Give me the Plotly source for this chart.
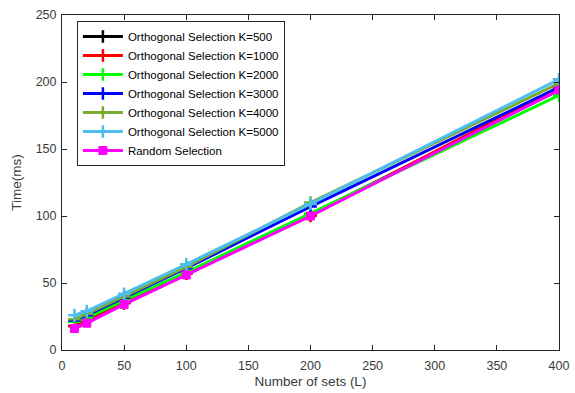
import plotly.graph_objects as go

L = [10, 20, 50, 100, 200, 400]
k500 = [18, 22, 35, 57, 101, 194]
k1000 = [18, 22, 35, 57, 100, 196]
k2000 = [21, 24, 37, 58, 102, 190]
k3000 = [22, 26, 39, 61, 107, 196]
k4000 = [23, 27, 40, 62, 110, 199]
k5000 = [26, 29, 42, 64, 109, 202]
rand_sel = [16, 20, 34, 56, 100, 194]

names = ["Orthogonal Selection K=500", "Orthogonal Selection K=1000",
         "Orthogonal Selection K=2000", "Orthogonal Selection K=3000",
         "Orthogonal Selection K=4000", "Orthogonal Selection K=5000",
         "Random Selection"]
series = [k500, k1000, k2000, k3000, k4000, k5000, rand_sel]
colors = ["#000000", "#ff0000", "#00ff00", "#0000ff", "#77ac30", "#4dbeee", "#ff00ff"]

fig = go.Figure()
for i, (nm, ys, c) in enumerate(zip(names, series, colors)):
    if i < 6:
        marker = dict(symbol="cross-thin", size=9, color=c, line=dict(color=c, width=2.5))
    else:
        marker = dict(symbol="square", size=8, color=c, line=dict(color=c, width=1))
    fig.add_trace(go.Scatter(x=L, y=ys, name=nm, mode="lines+markers",
                             line=dict(color=c, width=3), marker=marker))

font_fam = "Liberation Sans, Arial"
axis_common = dict(showline=True, linecolor="#262626", linewidth=1, mirror="ticks",
                   ticks="inside", ticklen=5, tickcolor="#262626", showgrid=False,
                   zeroline=False, automargin=False,
                   tickfont=dict(family=font_fam, size=12.5, color="#3a3a3a"))

fig.update_layout(
    width=575, height=393,
    margin=dict(l=62, r=16, t=15, b=43, autoexpand=False),
    plot_bgcolor="white", paper_bgcolor="white",
    xaxis=dict(range=[0, 400], tickvals=[0, 50, 100, 150, 200, 250, 300, 350, 400],
               ticklabelstandoff=4,
               title=dict(text="Number of sets (L)", font=dict(family=font_fam, size=13.5, color="#3a3a3a"), standoff=4),
               **axis_common),
    yaxis=dict(range=[0, 250], tickvals=[0, 50, 100, 150, 200, 250],
               ticklabelstandoff=2,
               title=dict(text="Time(ms)", font=dict(family=font_fam, size=13.5, color="#3a3a3a"), standoff=10),
               **axis_common),
    legend=dict(x=0.03, y=0.982, xanchor="left", yanchor="top",
                bgcolor="white", bordercolor="#262626", borderwidth=1,
                font=dict(family=font_fam, size=11.5, color="#000000"),
                tracegroupgap=0, itemwidth=40),
    showlegend=True,
)

fig.write_html("out.html")
